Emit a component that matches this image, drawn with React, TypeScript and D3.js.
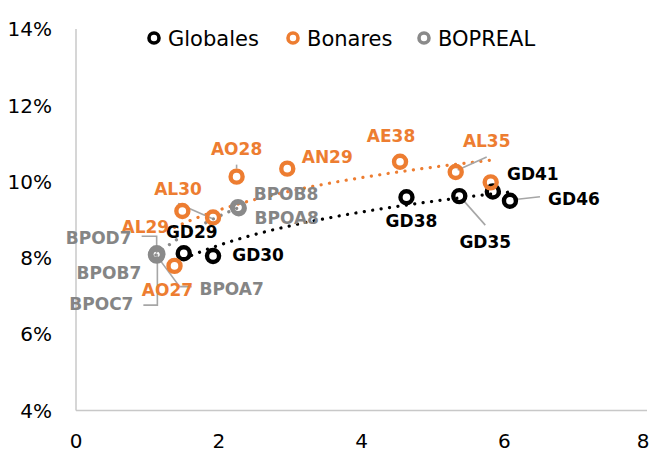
import React, { useEffect, useRef } from "react";
import * as d3 from "d3";

// Duration (x) vs yield % (y)
const globalesNames = ["GD29", "GD30", "GD38", "GD35", "GD41", "GD46"];
const globalesX = [1.51, 1.92, 4.63, 5.37, 5.84, 6.08];
const globalesY = [8.12, 8.05, 9.59, 9.62, 9.74, 9.5];

const bonaresNames = ["AO27", "AL29", "AL30", "AO28", "AN29", "AE38", "AL35", "AL41"];
const bonaresX = [1.38, 1.49, 1.92, 2.25, 2.96, 4.54, 5.32, 5.81];
const bonaresY = [7.79, 9.23, 9.06, 10.13, 10.34, 10.52, 10.25, 9.98];

const boprealNames = ["BPOD7", "BPOB7", "BPOC7", "BPOA7", "BPOB8", "BPOA8"];
const boprealX = [1.13, 1.12, 1.14, 1.13, 2.27, 2.28];
const boprealY = [8.12, 8.08, 8.1, 8.06, 9.33, 9.3];

const xTicks = [0, 2, 4, 6, 8];
const yTicks = [4, 6, 8, 10, 12, 14];

// label placement (pixel offsets from the point) and leader lines
const labelLayout: Record<string, { dx: number; dy: number; leader?: [number, number][] }> = {
  GD29: { dx: 8, dy: -21 },
  GD30: { dx: 45, dy: -1 },
  GD38: { dx: 5, dy: 24 },
  GD35: { dx: 26, dy: 46, leader: [[3, 3], [26, 29]] },
  GD41: { dx: 40, dy: -18 },
  GD46: { dx: 64, dy: -2, leader: [[3, -1], [30, -4]] },
  AO27: { dx: -7, dy: 24 },
  AL29: { dx: -37, dy: 16 },
  AL30: { dx: -35, dy: -29, leader: [[-35, -14], [-1, 1]] },
  AO28: { dx: 0, dy: -28, leader: [[0, -12], [0, -8]] },
  AN29: { dx: 40, dy: -12 },
  AE38: { dx: -9, dy: -26 },
  AL35: { dx: 31, dy: -31, leader: [[2, -2], [31, -15]] },
  BPOD7: { dx: -58, dy: -15, leader: [[-15, -17], [0, -17], [0, 0]] },
  BPOB7: { dx: -47, dy: 18 },
  BPOC7: { dx: -56, dy: 50, leader: [[-14, 51], [0, 51], [0, 0]] },
  BPOA7: { dx: 75, dy: 33, leader: [[0, 0], [23, 31], [35, 31]] },
  BPOB8: { dx: 48, dy: -13 },
  BPOA8: { dx: 48, dy: 10 },
};

const series = [
  { name: "Globales", names: globalesNames, xs: globalesX, ys: globalesY, color: "#000000", labelColor: "#000000" },
  { name: "Bonares", names: bonaresNames, xs: bonaresX, ys: bonaresY, color: "#ED7D31", labelColor: "#ED7D31" },
  { name: "BOPREAL", names: boprealNames, xs: boprealX, ys: boprealY, color: "#8A8A8A", labelColor: "#858585" },
];

// logarithmic least-squares trendline, y = a + b ln(x)
function logFit(xs: number[], ys: number[]) {
  const lx = xs.map((v) => Math.log(v));
  const mx = d3.mean(lx) as number;
  const my = d3.mean(ys) as number;
  let sxy = 0;
  let sxx = 0;
  lx.forEach((v, i) => {
    sxy += (v - mx) * (ys[i] - my);
    sxx += (v - mx) * (v - mx);
  });
  const b = sxy / sxx;
  const a = my - b * mx;
  return (x: number) => a + b * Math.log(x);
}

const App = () => {
  const svgRef = useRef<SVGSVGElement>(null);
  const width = 651;
  const height = 454;

  useEffect(() => {
    const svg = d3.select(svgRef.current);
    svg.selectAll("*").remove();

    const x = d3.scaleLinear().domain([0, 8]).range([76, 647]);
    const y = d3.scaleLinear().domain([4, 14]).range([410.5, 29]);
    const font = "'DejaVu Sans', sans-serif";

    // axes (lines only, no ticks)
    svg.append("line")
      .attr("x1", x(0)).attr("x2", x(0))
      .attr("y1", y(14)).attr("y2", y(4))
      .attr("stroke", "#c8c8c8").attr("stroke-width", 1.5);
    svg.append("line")
      .attr("x1", x(0)).attr("x2", x(8))
      .attr("y1", y(4)).attr("y2", y(4))
      .attr("stroke", "#c8c8c8").attr("stroke-width", 1.5);

    svg.selectAll(".ytick")
      .data(yTicks)
      .enter()
      .append("text")
      .attr("x", 52)
      .attr("y", (d) => y(d))
      .attr("dy", "0.36em")
      .attr("text-anchor", "end")
      .style("font-family", font)
      .style("font-size", "20px")
      .style("fill", "#000")
      .text((d) => `${d}%`);

    svg.selectAll(".xtick")
      .data(xTicks)
      .enter()
      .append("text")
      .attr("x", (d) => Math.min(x(d), width - 8))
      .attr("y", 441)
      .attr("dy", "0.36em")
      .attr("text-anchor", "middle")
      .style("font-family", font)
      .style("font-size", "20px")
      .style("fill", "#000")
      .text((d) => d);

    // trendlines
    const line = d3.line<[number, number]>()
      .x((d) => x(d[0]))
      .y((d) => y(d[1]));

    series.forEach((s) => {
      const f = logFit(s.xs, s.ys);
      const x0 = d3.min(s.xs) as number;
      const x1 = d3.max(s.xs) as number;
      const pts: [number, number][] = d3.range(0, 41).map((i) => {
        const xv = x0 + ((x1 - x0) * i) / 40;
        return [xv, f(xv)];
      });
      svg.append("path")
        .datum(pts)
        .attr("fill", "none")
        .attr("stroke", s.color)
        .attr("stroke-width", 3.2)
        .attr("stroke-linecap", "round")
        .attr("stroke-dasharray", "0.1 8.4")
        .attr("d", line);
    });

    // leader lines
    series.forEach((s) => {
      s.names.forEach((n, i) => {
        const lay = labelLayout[n];
        if (!lay || !lay.leader) return;
        const px = x(s.xs[i]);
        const py = y(s.ys[i]);
        svg.append("polyline")
          .attr("points", lay.leader.map((p) => `${px + p[0]},${py + p[1]}`).join(" "))
          .attr("fill", "none")
          .attr("stroke", "#a6a6a6")
          .attr("stroke-width", 1.6);
      });
    });

    // markers
    series.forEach((s) => {
      svg.selectAll(`.m-${s.name}`)
        .data(s.xs.map((v, i) => ({ x: v, y: s.ys[i] })))
        .enter()
        .append("circle")
        .attr("cx", (d) => x(d.x))
        .attr("cy", (d) => y(d.y))
        .attr("r", 6)
        .attr("fill", "none")
        .attr("stroke", s.color)
        .attr("stroke-width", 4.4);
    });

    // data labels
    series.forEach((s) => {
      s.names.forEach((n, i) => {
        const lay = labelLayout[n];
        if (!lay) return;
        svg.append("text")
          .attr("x", x(s.xs[i]) + lay.dx)
          .attr("y", y(s.ys[i]) + lay.dy)
          .attr("dy", "0.36em")
          .attr("text-anchor", "middle")
          .style("font-family", font)
          .style("font-weight", "bold")
          .style("font-size", "17px")
          .style("fill", s.labelColor)
          .text(n);
      });
    });

    // legend
    const legendX = [154, 293, 424];
    series.forEach((s, i) => {
      const g = svg.append("g").attr("transform", `translate(${legendX[i]},38)`);
      g.append("circle")
        .attr("r", 5)
        .attr("fill", "none")
        .attr("stroke", s.color)
        .attr("stroke-width", 3.6);
      g.append("text")
        .attr("x", 14)
        .attr("dy", "0.36em")
        .style("font-family", font)
        .style("font-size", "21px")
        .style("fill", "#000")
        .text(s.name);
    });
  }, []);

  return (
    <div style={{ position: "absolute", left: 0, top: 0, width, height, background: "#fff" }}>
      <svg ref={svgRef} width={width} height={height} style={{ display: "block" }} />
    </div>
  );
};

export default App;
